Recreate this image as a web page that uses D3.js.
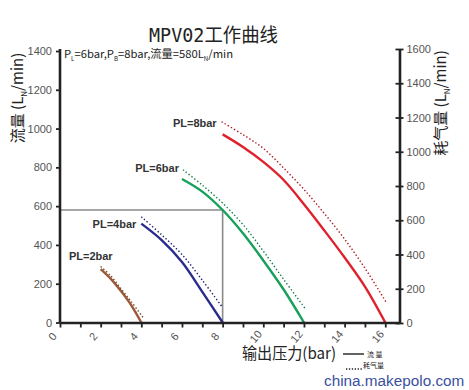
<!DOCTYPE html>
<html><head><meta charset="utf-8">
<script src="https://cdn.jsdelivr.net/npm/d3@7"></script>
<style>
html,body{margin:0;padding:0;background:#fff;}
svg{display:block;font-family:"Liberation Sans",Arial,sans-serif;}
</style></head>
<body>
<svg id="c" width="469" height="390"></svg>
<script>
// ---- data ----
const pressureTicks = d3.range(0, 17, 1);
const pressureLabels = [0,2,4,6,8,10,12,14,16];
const flowTicks = [0,200,400,600,800,1000,1200,1400];
const consTicks = [0,200,400,600,800,1000,1200,1400,1600];
const seriesNames = ["PL=2bar","PL=4bar","PL=6bar","PL=8bar"];
const seriesColors = ["#9a5a3a","#2a2c8c","#16a05a","#e0202c"];
const flowPL2 = [[2,275],[2.5,225],[3,162],[3.5,90],[4,0]];
const flowPL4 = [[4,510],[5,425],[6,312],[7,158],[8,0]];
const flowPL6 = [[6,740],[7,675],[8,580],[9,460],[10,320],[11,170],[12,0]];
const flowPL8 = [[8,970],[9,905],[10,828],[11,735],[12,610],[13,475],[14,335],[15,185],[16,0]];
const consPL2 = [[2,330],[2.5,275],[3,200],[3.5,125],[4.1,30]];
const consPL4 = [[4,620],[5,515],[6,400],[7,250],[8,90]];
const consPL6 = [[6.05,895],[7,805],[8,700],[9,575],[10,420],[11,255],[12.05,86]];
const consPL8 = [[7.95,1175],[9,1100],[10,1020],[11,905],[12,780],[13,640],[14,490],[15,320],[16.05,120]];
const refPoint = [8,580];

const flows = [flowPL2,flowPL4,flowPL6,flowPL8];
const cons = [consPL2,consPL4,consPL6,consPL8];
const labelOffsets = [[12,-9],[-5,4],[-3,-7],[-6,-7]];

const svg = d3.select("#c");
const x = d3.scaleLinear().domain([0,16.7]).range([60,399.5]);
const yL = d3.scaleLinear().domain([0,1400]).range([322.5,51]);
const yR = d3.scaleLinear().domain([0,1600]).range([323,49]);

// reference lines
svg.append("path")
  .attr("d", `M${x(0)},${yL(refPoint[1])}H${x(refPoint[0])}V${yL(0)}`)
  .attr("fill","none").attr("stroke","#8a8a8a").attr("stroke-width",1.6);

// curves
const lineL = d3.line().x(d=>x(d[0])).y(d=>yL(d[1])).curve(d3.curveCatmullRom);
const lineR = d3.line().x(d=>x(d[0])).y(d=>yR(d[1])).curve(d3.curveCatmullRom);
flows.forEach((s,i)=>{
  svg.append("path").attr("d",lineL(s)).attr("fill","none")
    .attr("stroke",seriesColors[i]).attr("stroke-width",2.4);
});
cons.forEach((s,i)=>{
  svg.append("path").attr("d",lineR(s)).attr("fill","none")
    .attr("stroke",d3.color(seriesColors[i]).darker(0.7)).attr("stroke-width",1.4)
    .attr("stroke-dasharray","1.4,2.2");
});

// series labels
flows.forEach((s,i)=>{
  svg.append("text").attr("x",x(s[0][0])+labelOffsets[i][0]).attr("y",yL(s[0][1])+labelOffsets[i][1])
    .attr("text-anchor","end").attr("font-size",11).attr("font-weight","bold")
    .attr("fill","#333").text(seriesNames[i]);
});

// axes
function styleAxis(g){
  g.select(".domain").attr("stroke","#222").attr("stroke-width",2.6);
  g.selectAll(".tick line").attr("stroke","#222").attr("stroke-width",1.8);
  g.selectAll(".tick text").attr("fill","#555").attr("font-size",11)
    .attr("font-family","'Liberation Sans',Arial,sans-serif");
}
const gx = svg.append("g").attr("transform",`translate(0,${yL(0)})`)
  .call(d3.axisBottom(x).tickValues(pressureTicks).tickSize(5).tickSizeOuter(0)
    .tickFormat(d=>pressureLabels.includes(d)?d:""));
styleAxis(gx);
gx.selectAll(".tick text").attr("x",0).attr("y",0).attr("dy","0.35em")
  .attr("text-anchor","middle").attr("transform","translate(-8,14) rotate(-50)");

const gl = svg.append("g").attr("transform",`translate(${x(0)},0)`)
  .call(d3.axisLeft(yL).tickValues(flowTicks).tickSize(4).tickSizeOuter(0).tickPadding(4)
    .tickFormat(d3.format("d")));
styleAxis(gl);
gl.select(".domain").attr("d",`M0,${yL(1400)-2}V${yL(0)}`);

const gr = svg.append("g").attr("transform",`translate(${x(16.7)},0)`)
  .call(d3.axisRight(yR).tickValues(consTicks).tickSize(4).tickSizeOuter(0).tickPadding(3)
    .tickFormat(d3.format("d")));
styleAxis(gr);
gr.selectAll(".tick line").attr("x1",-4).attr("x2",4);

// title
svg.append("text").attr("x",213.5).attr("y",42).attr("text-anchor","middle")
  .attr("font-size",19).attr("fill","#222")
  .attr("font-family","'DejaVu Sans Mono','Noto Sans CJK SC',sans-serif")
  .attr("textLength",129).attr("lengthAdjust","spacingAndGlyphs")
  .text("MPV02工作曲线");

// annotation with subscripts
const ann = svg.append("text").attr("x",64).attr("y",58).attr("font-size",11).attr("fill","#222")
  .attr("font-family","'Noto Sans CJK SC',sans-serif");
const annParts = [["P",0],["L",1],["=6bar,P",0],["B",1],["=8bar,流量=580L",0],["N",1],["/min",0]];
let prevSub = 0;
annParts.forEach(p=>{
  const dy = p[1] ? 3 : (prevSub ? -3 : 0);
  ann.append("tspan").attr("font-size",p[1]?6:11).attr("dy",dy).text(p[0]);
  prevSub = p[1];
});
ann.attr("textLength",169).attr("lengthAdjust","spacingAndGlyphs");

// y axis titles
function yTitle(cx,cy,main){
  const t = svg.append("text").attr("transform",`translate(${cx},${cy}) rotate(-90)`)
    .attr("text-anchor","middle").attr("font-size",15).attr("fill","#222")
    .attr("font-family","'Noto Sans CJK SC',sans-serif");
  t.append("tspan").text(main+" (L");
  t.append("tspan").attr("font-size",8).attr("dy",4).text("N");
  t.append("tspan").attr("dy",-4).text("/min)");
}
yTitle(23,98,"流量");
yTitle(446,103,"耗气量");

// x axis title + legend
svg.append("text").attr("x",242).attr("y",359).attr("font-size",16).attr("fill","#222")
  .attr("font-family","'Noto Sans CJK SC',sans-serif")
  .attr("textLength",94).attr("lengthAdjust","spacingAndGlyphs").text("输出压力(bar)");
svg.append("line").attr("x1",343).attr("x2",364).attr("y1",354).attr("y2",354)
  .attr("stroke","#222").attr("stroke-width",1.4);
svg.append("text").attr("x",367).attr("y",357).attr("font-size",7).attr("fill","#222")
  .attr("font-family","'Noto Sans CJK SC',sans-serif").text("流  量");
svg.append("line").attr("x1",346).attr("x2",363).attr("y1",369).attr("y2",369)
  .attr("stroke","#222").attr("stroke-width",1.6).attr("stroke-dasharray","1.3,1.6");
svg.append("text").attr("x",363).attr("y",368).attr("font-size",7).attr("fill","#222")
  .attr("font-family","'Noto Sans CJK SC',sans-serif").text("耗气量");

// watermark
svg.append("text").attr("x",324).attr("y",386).attr("font-size",15.3).attr("fill","#3b4fa0")
  .attr("font-family","'Liberation Sans',Arial,sans-serif").text("china.makepolo.com");
</script>
</body></html>
